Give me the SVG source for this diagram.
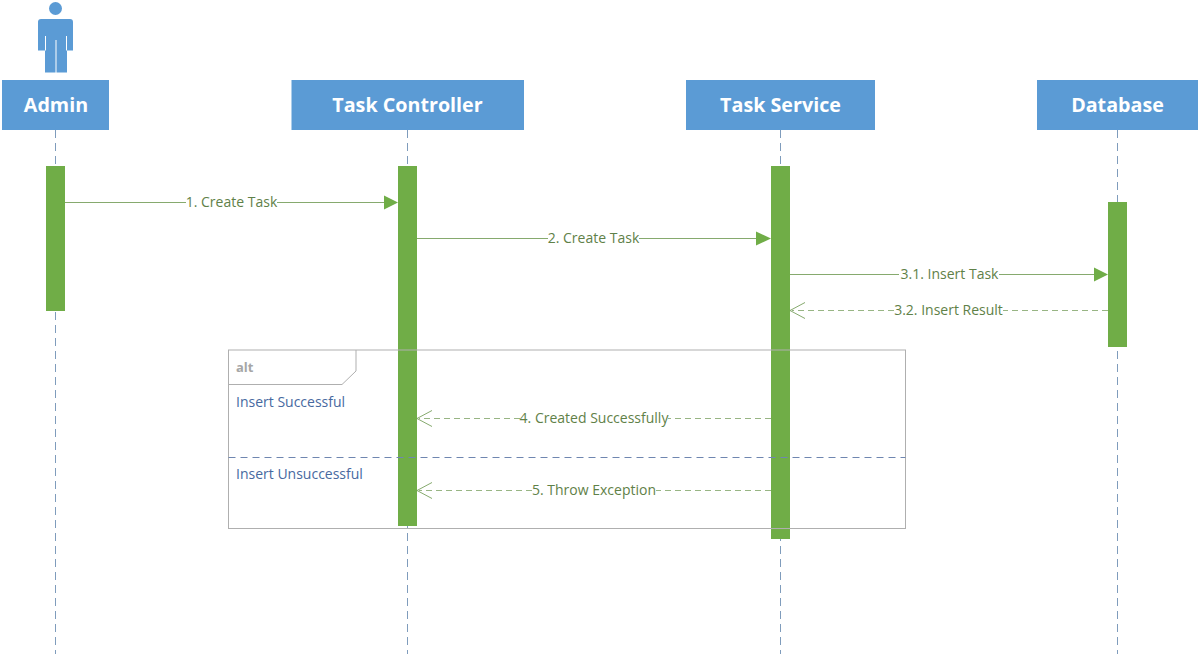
<svg xmlns="http://www.w3.org/2000/svg" width="1200" height="656" viewBox="0 0 1200 656">
<style>
.head{fill:#5b9bd5}
.headt{font:bold 19.700px "Open Sans","Noto Sans",sans-serif;fill:#fff;text-anchor:middle}
.life{stroke:#7f9cbc;stroke-width:1;stroke-dasharray:8 5;fill:none}
.bar{fill:#70ad47}
.msg{stroke:#86aa6e;stroke-width:1;fill:none}
.ret{stroke:#98b584;stroke-width:1;stroke-dasharray:6 4;fill:none}
.lab{font:14px "Open Sans","Noto Sans",sans-serif;fill:#5f8148;text-anchor:middle}
.grd{font:14px "Open Sans","Noto Sans",sans-serif;fill:#47699f}
.frame{stroke:#afafaf;stroke-width:1;fill:none}
.tip{fill:#70ad47}
.open{stroke:#86aa6e;stroke-width:1;fill:none}
</style>
<rect width="1200" height="656" fill="#fff"/>
<g id="lifelines">
<path class="life" d="M55.500 130V654"/>
<path class="life" d="M407.500 130V654"/>
<path class="life" d="M780.500 130V654"/>
<path class="life" d="M1117.500 130V654"/>
</g>
<g id="actor-icon">
<circle cx="55.500" cy="8.500" r="6.500" fill="#5b9bd5"/>
<path fill="#5b9bd5" d="M41 19H70Q73 19 73 22V50.500H67V72.500H45V50.500H38V22Q38 19 41 19Z"/>
<path stroke="#fff" stroke-width="1" fill="none" d="M45.500 36V50.500M66.500 36V50.500M56 40V73"/>
</g>
<g id="admin"><rect class="head" x="2" y="80" width="107" height="50"/><text class="headt" x="56" y="112">Admin</text></g>
<g id="task-controller"><rect class="head" x="291.500" y="80" width="232.500" height="50"/><text class="headt" x="407.500" y="112">Task Controller</text></g>
<g id="task-service"><rect class="head" x="686" y="80" width="189" height="50"/><text class="headt" x="780.500" y="112">Task Service</text></g>
<g id="database"><rect class="head" x="1037" y="80" width="161" height="50"/><text class="headt" x="1117.500" y="112">Database</text></g>
<g id="activations">
<rect class="bar" x="46" y="166" width="19" height="145"/>
<rect class="bar" x="398" y="166" width="19" height="360"/>
<rect class="bar" x="771" y="166" width="19" height="373"/>
<rect class="bar" x="1108" y="202" width="19" height="145"/>
</g>
<g id="alt-frame">
<rect class="frame" x="228.500" y="350" width="677" height="178.500"/>
<path class="frame" d="M228.500 384.500H342L356 371V350"/>
<text x="236" y="372" font-family="'Open Sans','Noto Sans',sans-serif" font-size="13" font-weight="bold" fill="#a6a6a6">alt</text>
<text class="grd" x="236" y="407">Insert Successful</text>
<path d="M228.500 457.500H905.500" stroke="#6f86b0" stroke-width="1" stroke-dasharray="7 5" fill="none"/>
<text class="grd" x="236" y="479">Insert Unsuccessful</text>
</g>
<g id="connectors">
<path class="msg" d="M65 202.500H186M277 202.500H386"/><path class="tip" d="M384 195.500L398 202.500L384 209.500Z"/>
<path class="msg" d="M417 238.500H548M639 238.500H758"/><path class="tip" d="M756 231.500L771 238.500L756 245.500Z"/>
<path class="msg" d="M790 274.500H899M999 274.500H1096"/><path class="tip" d="M1094 267.500L1108 274.500L1094 281.500Z"/>
<path class="ret" d="M1108 310.500H1003M894 310.500H792"/><path class="open" d="M805 302.500L790 310.500L805 318.500"/>
<path class="ret" d="M771 418.500H668M520 418.500H419"/><path class="open" d="M432 410.500L417 418.500L432 426.500"/>
<path class="ret" d="M771 490.500H656M532 490.500H419"/><path class="open" d="M432 482.500L417 490.500L432 498.500"/>
</g>
<g id="labels">
<text class="lab" x="231.500" y="207">1. Create Task</text>
<text class="lab" x="593.500" y="243">2. Create Task</text>
<text class="lab" x="949.500" y="279">3.1. Insert Task</text>
<text class="lab" x="948.500" y="315">3.2. Insert Result</text>
<text class="lab" x="594" y="423">4. Created Successfully</text>
<text class="lab" x="594" y="495">5. Throw Exception</text>
</g>
</svg>
